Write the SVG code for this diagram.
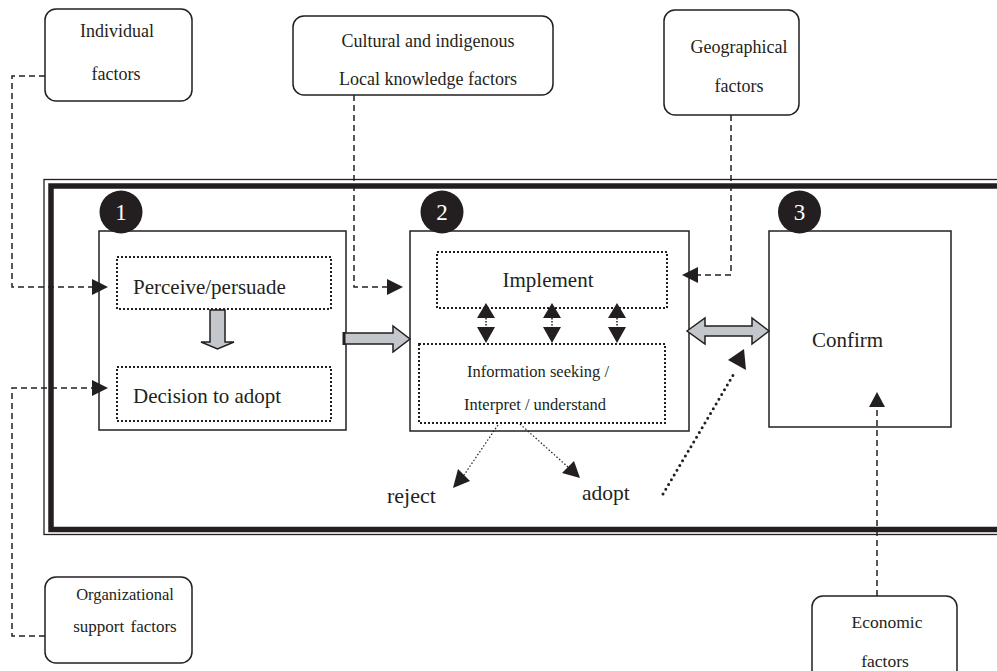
<svg xmlns="http://www.w3.org/2000/svg" width="997" height="671" viewBox="0 0 997 671">
<style>
text{font-family:"Liberation Serif","Times New Roman",serif;fill:#231f20}
.fbox{fill:#fff;stroke:#231f20;stroke-width:1.5}
.box{fill:#fff;stroke:#231f20;stroke-width:1.5}
.dot{fill:none;stroke:#231f20;stroke-width:2;stroke-dasharray:2 2}
.dash{fill:none;stroke:#231f20;stroke-width:1.5;stroke-dasharray:6 4}
.head{fill:#231f20}
.gray{fill:#c3c6ca;stroke:#231f20;stroke-width:1.5;stroke-linejoin:miter}
.num{fill:#fff;font-size:23px;text-anchor:middle}
.s18{font-size:18px;text-anchor:middle}
</style>

<g id="frame">
<rect x="44" y="179.5" width="980" height="355" fill="none" stroke="#231f20" stroke-width="1.3"/>
<rect x="51" y="186" width="970" height="343.5" fill="none" stroke="#231f20" stroke-width="5.5"/>
</g>

<g id="individual">
<rect class="fbox" x="45" y="9" width="147" height="92" rx="11"/>
<text class="s18" x="117" y="37">Individual</text>
<text class="s18" x="116" y="80">factors</text>
</g>

<g id="cultural">
<rect class="fbox" x="293" y="16" width="260" height="79" rx="11"/>
<text class="s18" x="428" y="47">Cultural and indigenous</text>
<text class="s18" x="428" y="85">Local knowledge factors</text>
</g>

<g id="geographical">
<rect class="fbox" x="664" y="10" width="135" height="105" rx="11"/>
<text class="s18" x="739" y="53">Geographical</text>
<text class="s18" x="739" y="92">factors</text>
</g>

<g id="organizational">
<rect class="fbox" x="45" y="577" width="147" height="86" rx="11"/>
<text x="125" y="600" font-size="16.5" text-anchor="middle">Organizational</text>
<text x="125" y="632" font-size="17" text-anchor="middle" word-spacing="2">support factors</text>
</g>

<g id="economic">
<rect class="fbox" x="812" y="596" width="145" height="90" rx="11"/>
<text x="887" y="628" font-size="17.5" text-anchor="middle">Economic</text>
<text x="885" y="667" font-size="17.5" text-anchor="middle">factors</text>
</g>

<g id="stage1">
<rect class="box" x="99" y="231" width="247" height="199"/>
<circle cx="121" cy="212" r="21.5" fill="#231f20"/>
<text class="num" x="121" y="220">1</text>
<rect class="dot" x="117" y="257" width="214" height="52"/>
<text x="133" y="294" font-size="21">Perceive/persuade</text>
<rect class="dot" x="117" y="367" width="214" height="54"/>
<text x="133" y="403" font-size="21">Decision to adopt</text>
</g>

<g id="stage2">
<rect class="box" x="410" y="231" width="279" height="200"/>
<circle cx="442" cy="212" r="21.5" fill="#231f20"/>
<text class="num" x="442" y="220">2</text>
<rect class="dot" x="437" y="252" width="230" height="56"/>
<text x="548" y="287" font-size="21" text-anchor="middle">Implement</text>
<rect class="dot" x="419" y="344" width="246" height="79"/>
<text x="538" y="377" font-size="16.5" text-anchor="middle">Information seeking /</text>
<text x="535" y="410" font-size="16.5" text-anchor="middle">Interpret / understand</text>
</g>

<g id="stage3">
<rect class="box" x="769" y="231" width="182" height="196"/>
<circle cx="799.5" cy="212" r="21.5" fill="#231f20"/>
<text class="num" x="799.5" y="220">3</text>
<text x="812" y="347" font-size="21">Confirm</text>
</g>

<g id="outcomes">
<text x="387" y="503" font-size="22">reject</text>
<text x="582" y="500" font-size="21.5">adopt</text>
</g>

<g id="connectors">
<!-- dashed factor connectors -->
<path class="dash" d="M45 76 H12 V287 H92"/>
<polygon class="head" points="92,279 108,287 92,295"/>
<path class="dash" d="M45 636 H12 V388 H92"/>
<polygon class="head" points="92,380 108,388 92,396"/>
<path class="dash" d="M354 95 V287 H387"/>
<polygon class="head" points="387,279 403,287 387,295"/>
<path class="dash" d="M731 115 V275 H698"/>
<polygon class="head" points="698,267 682,275 698,283"/>
<path class="dash" d="M877 596 V407"/>
<polygon class="head" points="869,407 877,392 885,407"/>

<!-- gray block arrows -->
<polygon class="gray" points="210,310 225,310 225,342 234,342 217.5,349 201,342 210,342"/>
<polygon class="gray" points="344,333 393,333 393,326 410,339 393,352 393,344 344,344"/>
<line x1="344" y1="332" x2="344" y2="345" stroke="#231f20" stroke-width="3"/>
<polygon class="gray" points="687,331 705,318 705,326 752,326 752,318 769,331 752,344 752,336 705,336 705,344"/>

<!-- vertical double arrows -->
<g>
<line x1="486" y1="318" x2="486" y2="327" stroke="#231f20" stroke-width="1.5" stroke-dasharray="1.5 1.5"/>
<polygon class="head" points="486,303 495,318 477,318"/>
<polygon class="head" points="477,327 495,327 486,343"/>
<line x1="552" y1="318" x2="552" y2="327" stroke="#231f20" stroke-width="1.5" stroke-dasharray="1.5 1.5"/>
<polygon class="head" points="552,303 561,318 543,318"/>
<polygon class="head" points="543,327 561,327 552,343"/>
<line x1="617" y1="318" x2="617" y2="327" stroke="#231f20" stroke-width="1.5" stroke-dasharray="1.5 1.5"/>
<polygon class="head" points="617,303 626,318 608,318"/>
<polygon class="head" points="608,327 626,327 617,343"/>
</g>

<!-- reject / adopt -->
<line x1="498" y1="425" x2="464" y2="475" stroke="#231f20" stroke-width="1.2" stroke-dasharray="1.5 2"/>
<polygon class="head" points="453,488 458,469 470,481"/>
<line x1="520" y1="424" x2="568" y2="467" stroke="#231f20" stroke-width="1.2" stroke-dasharray="1.5 2"/>
<polygon class="head" points="580,478 562,473 574,461"/>

<!-- adopt to confirm -->
<line x1="663" y1="494" x2="735" y2="372" stroke="#231f20" stroke-width="3" stroke-linecap="round" stroke-dasharray="0 5.5"/>
<polygon class="head" points="728,360 744,349 746,370"/>
</g>
</svg>
